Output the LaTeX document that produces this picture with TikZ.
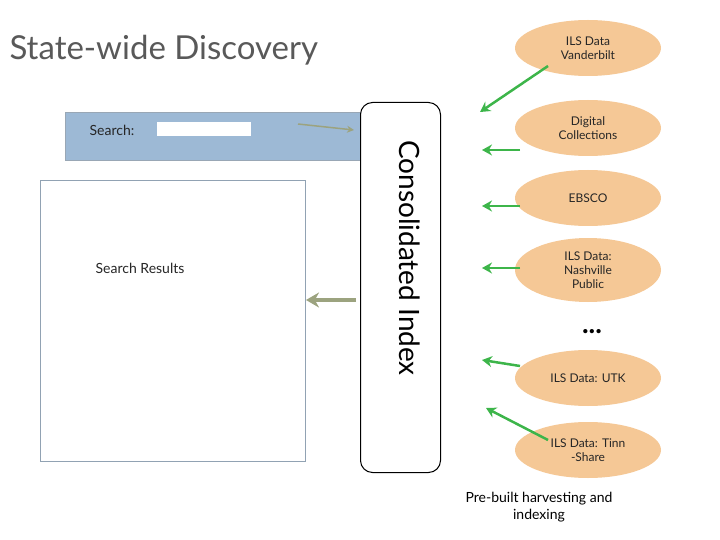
\documentclass[tikz,border=0pt]{standalone}
\usepackage{fontspec}
\setmainfont{Lato}
\usetikzlibrary{shapes.geometric,arrows.meta}
\definecolor{peach}{HTML}{F5C896}
\definecolor{grn}{HTML}{3DB54A}
\definecolor{olv}{HTML}{9CA37F}
\definecolor{sblue}{HTML}{9DB9D5}
\definecolor{tgrey}{HTML}{595959}
\begin{document}
\begin{tikzpicture}[x=1pt,y=-1pt,
  src/.style={ellipse,fill=peach,minimum width=146pt,minimum height=56pt,align=center,font=\fontsize{12}{14}\selectfont,text=black!85},
  ga/.style={draw=grn,line width=2.5pt,-{Stealth[length=10pt,width=11pt]}},
  oa/.style={draw=olv,line width=1.5pt,-{Stealth[length=7pt,width=7pt]}}]
\useasboundingbox (0,0) rectangle (720,540);
\node[anchor=west,text=tgrey,font=\fontsize{33}{36}\selectfont] (title) at (6,50) {State-wide Discovery};
\node[draw=sblue!70!black!70,fill=sblue,minimum width=305pt,minimum height=48pt,anchor=north west] (search) at (65,112) {};
\node[font=\fontsize{14}{16}\selectfont,text=black!85] (slab) at (112,130) {Search:};
\node[draw=white,fill=white,minimum width=93pt,minimum height=13pt,inner sep=0pt] (sfield) at (204,129) {};
\node[draw=sblue!60!gray,line width=1pt,fill=white,minimum width=265pt,minimum height=281pt,anchor=north west] (res) at (40,180) {};
\node[font=\fontsize{14}{16}\selectfont,text=black!85] (rlab) at (140,268) {Search Results};
\node[draw=black,fill=white,line width=1pt,rounded corners=12pt,minimum width=80pt,minimum height=370pt,anchor=north west] (idx) at (360,102) {};
\node[rotate=-90,font=\fontsize{28}{30}\selectfont] (idxl) at (410,258) {Consolidated Index};
\node[src] (e1) at (588,48) {ILS Data\\Vanderbilt};
\node[src] (e2) at (588,128) {Digital\\Collections};
\node[src] (e3) at (588,198) {EBSCO};
\node[src,minimum height=64pt] (e4) at (588,270) {ILS Data:\\Nashville\\Public};
\node[font=\fontsize{28}{28}\selectfont\bfseries] (dots) at (592,332) {...};
\node[src] (e5) at (588,378) {ILS Data: UTK};
\node[src] (e6) at (588,450) {ILS Data: Tinn\\-Share};
\node[align=center,font=\fontsize{14}{17}\selectfont] (foot) at (539,507) {Pre-built harvesting and\\indexing};
\coordinate (a1) at (480,112); \coordinate (a2) at (482,150); \coordinate (a3) at (482,206);
\coordinate (a4) at (482,268); \coordinate (a5) at (482,360); \coordinate (a6) at (486,408);
\draw[ga] (548,66) -- (a1);
\draw[ga] (520,150) -- (a2);
\draw[ga] (520,206) -- (a3);
\draw[ga] (520,268) -- (a4);
\draw[ga] (520,366) -- (a5);
\draw[ga] (548,440) -- (a6);
\coordinate (t1) at (354,130);
\draw[oa] (298,124) -- (t1);
\coordinate (t2) at (306,300);
\draw[draw=olv,line width=3.5pt,-{Stealth[length=13pt,width=15pt]}] (356,300) -- (t2);
\end{tikzpicture}
\end{document}
